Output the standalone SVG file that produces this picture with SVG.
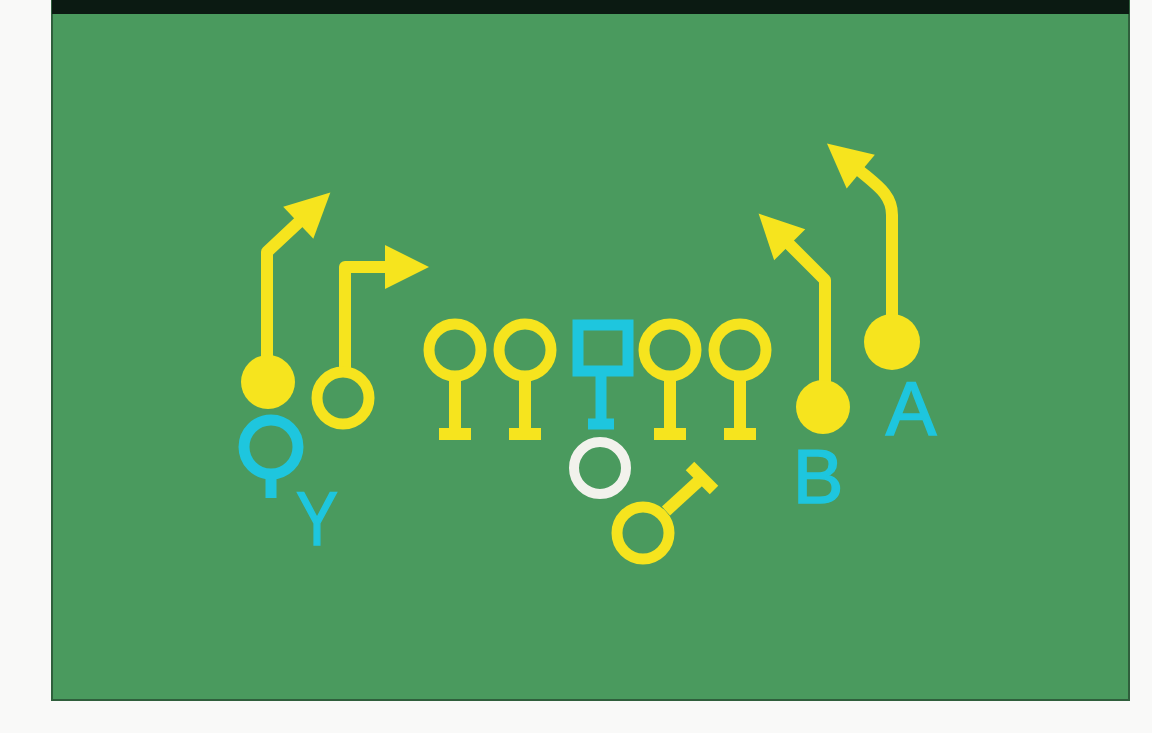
<svg xmlns="http://www.w3.org/2000/svg" width="1152" height="733" viewBox="0 0 1152 733">
  <style>
    .route { fill: none; stroke: #f6e41e; stroke-width: 12; stroke-linejoin: round; }
    .yfill { fill: #f6e41e; }
    .ycirc { fill: none; stroke: #f6e41e; stroke-width: 11; }
    .ystem { stroke: #f6e41e; stroke-width: 12; }
    .cyan { fill: none; stroke: #1ec6de; stroke-width: 11; }
    .cstem { stroke: #1ec6de; stroke-width: 11; }
    .lbl { font-family: "Liberation Sans", Arial, sans-serif; font-size: 76px; fill: #1ec6de; stroke: #1ec6de; stroke-width: 1.5; text-anchor: middle; }
  </style>
  <defs>
    <marker id="arrow" markerUnits="userSpaceOnUse" markerWidth="50" markerHeight="50" viewBox="0 -25 46 50" refX="1" refY="0" orient="auto">
      <path d="M0,-22 L44,0 L0,22 Z" fill="#f6e41e"/>
    </marker>
  </defs>
  <rect x="0" y="0" width="1152" height="733" fill="#f9f9f8"/>
  <g id="field">
    <rect x="52" y="0" width="1077" height="700" fill="#4a9a5e" stroke="#2f5f3c" stroke-width="2"/>
    <rect x="52" y="0" width="1077" height="14" fill="#0b1a12"/>
  </g>
  <g id="connectors">
    <path class="route" d="M267,382 L267,252 L299,222" marker-end="url(#arrow)"/>
    <path class="route" d="M345,372 L345,267 L386,267" marker-end="url(#arrow)"/>
    <path class="route" d="M825,407 L825,280 L789,244" marker-end="url(#arrow)"/>
    <path class="route" d="M892,342 L892,215 C892,195 878,186 860,171" marker-end="url(#arrow)"/>
    <line class="ystem" x1="666" y1="511" x2="702" y2="478"/>
    <line class="ystem" x1="690" y1="466" x2="714" y2="490"/>
  </g>
  <g id="receiver-left">
    <circle class="yfill" cx="268" cy="382" r="27"/>
  </g>
  <g id="receiver-slot">
    <circle class="ycirc" cx="343" cy="398" r="26"/>
  </g>
  <g id="player-Y">
    <circle class="cyan" cx="271" cy="447" r="27"/>
    <line class="cstem" x1="271" y1="474" x2="271" y2="498"/>
    <text class="lbl" x="317" y="545" textLength="42" lengthAdjust="spacingAndGlyphs">Y</text>
  </g>
  <g id="lineman-1">
    <circle class="ycirc" cx="455" cy="350" r="26"/>
    <line class="ystem" x1="455" y1="376" x2="455" y2="434"/>
    <line class="ystem" x1="439" y1="434" x2="471" y2="434"/>
  </g>
  <g id="lineman-2">
    <circle class="ycirc" cx="525" cy="350" r="26"/>
    <line class="ystem" x1="525" y1="376" x2="525" y2="434"/>
    <line class="ystem" x1="509" y1="434" x2="541" y2="434"/>
  </g>
  <g id="center">
    <rect class="cyan" x="578" y="325" width="50" height="46"/>
    <line class="cstem" x1="601" y1="371" x2="601" y2="424"/>
    <line class="cstem" x1="588" y1="424" x2="614" y2="424"/>
  </g>
  <g id="lineman-4">
    <circle class="ycirc" cx="670" cy="350" r="26"/>
    <line class="ystem" x1="670" y1="376" x2="670" y2="434"/>
    <line class="ystem" x1="654" y1="434" x2="686" y2="434"/>
  </g>
  <g id="lineman-5">
    <circle class="ycirc" cx="740" cy="350" r="26"/>
    <line class="ystem" x1="740" y1="376" x2="740" y2="434"/>
    <line class="ystem" x1="724" y1="434" x2="756" y2="434"/>
  </g>
  <g id="quarterback">
    <circle cx="600" cy="468" r="26" fill="none" stroke="#f2f2ec" stroke-width="10"/>
  </g>
  <g id="back">
    <circle class="ycirc" cx="643" cy="533" r="26"/>
  </g>
  <g id="player-B">
    <circle class="yfill" cx="823" cy="407" r="27"/>
    <text class="lbl" x="818" y="503">B</text>
  </g>
  <g id="player-A">
    <circle class="yfill" cx="892" cy="342" r="28"/>
    <text class="lbl" x="911" y="435">A</text>
  </g>
</svg>
